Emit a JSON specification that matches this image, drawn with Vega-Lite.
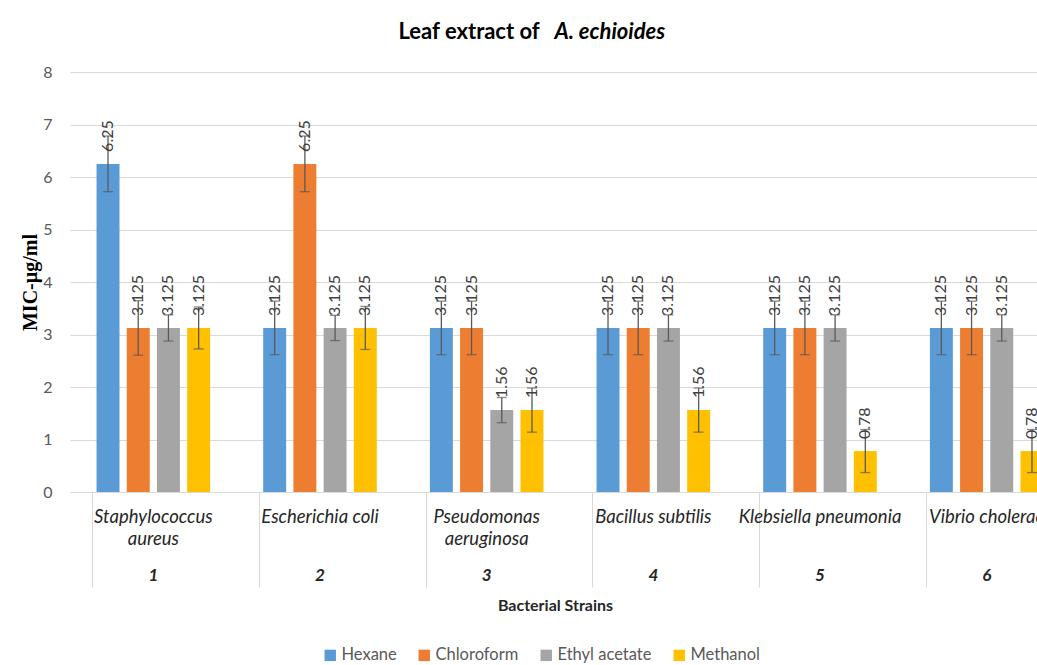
{
  "$schema": "https://vega.github.io/schema/vega-lite/v6.json",
  "width": 1000,
  "height": 420,
  "autosize": {"type": "none"},
  "padding": {"left": 70, "top": 72, "right": 0, "bottom": 173},
  "background": "white",
  "config": {"font": "Lato", "view": {"stroke": null}},
  "data": {
    "values": [
      {"strain": "1|Staphylococcus|aureus", "solvent": "Hexane", "mic": 6.25, "lo": 5.72, "hi": 6.78},
      {"strain": "1|Staphylococcus|aureus", "solvent": "Chloroform", "mic": 3.125, "lo": 2.605, "hi": 3.645},
      {"strain": "1|Staphylococcus|aureus", "solvent": "Ethyl acetate", "mic": 3.125, "lo": 2.875, "hi": 3.375},
      {"strain": "1|Staphylococcus|aureus", "solvent": "Methanol", "mic": 3.125, "lo": 2.725, "hi": 3.525},
      {"strain": "2|Escherichia coli", "solvent": "Hexane", "mic": 3.125, "lo": 2.615, "hi": 3.635},
      {"strain": "2|Escherichia coli", "solvent": "Chloroform", "mic": 6.25, "lo": 5.72, "hi": 6.78},
      {"strain": "2|Escherichia coli", "solvent": "Ethyl acetate", "mic": 3.125, "lo": 2.885, "hi": 3.365},
      {"strain": "2|Escherichia coli", "solvent": "Methanol", "mic": 3.125, "lo": 2.715, "hi": 3.535},
      {"strain": "3|Pseudomonas|aeruginosa", "solvent": "Hexane", "mic": 3.125, "lo": 2.615, "hi": 3.635},
      {"strain": "3|Pseudomonas|aeruginosa", "solvent": "Chloroform", "mic": 3.125, "lo": 2.615, "hi": 3.635},
      {"strain": "3|Pseudomonas|aeruginosa", "solvent": "Ethyl acetate", "mic": 1.56, "lo": 1.32, "hi": 1.8},
      {"strain": "3|Pseudomonas|aeruginosa", "solvent": "Methanol", "mic": 1.56, "lo": 1.14, "hi": 1.98},
      {"strain": "4|Bacillus subtilis", "solvent": "Hexane", "mic": 3.125, "lo": 2.615, "hi": 3.635},
      {"strain": "4|Bacillus subtilis", "solvent": "Chloroform", "mic": 3.125, "lo": 2.615, "hi": 3.635},
      {"strain": "4|Bacillus subtilis", "solvent": "Ethyl acetate", "mic": 3.125, "lo": 2.875, "hi": 3.375},
      {"strain": "4|Bacillus subtilis", "solvent": "Methanol", "mic": 1.56, "lo": 1.14, "hi": 1.98},
      {"strain": "5|Klebsiella pneumonia", "solvent": "Hexane", "mic": 3.125, "lo": 2.615, "hi": 3.635},
      {"strain": "5|Klebsiella pneumonia", "solvent": "Chloroform", "mic": 3.125, "lo": 2.615, "hi": 3.635},
      {"strain": "5|Klebsiella pneumonia", "solvent": "Ethyl acetate", "mic": 3.125, "lo": 2.875, "hi": 3.375},
      {"strain": "5|Klebsiella pneumonia", "solvent": "Methanol", "mic": 0.78, "lo": 0.37, "hi": 1.19},
      {"strain": "6|Vibrio cholerae", "solvent": "Hexane", "mic": 3.125, "lo": 2.615, "hi": 3.635},
      {"strain": "6|Vibrio cholerae", "solvent": "Chloroform", "mic": 3.125, "lo": 2.615, "hi": 3.635},
      {"strain": "6|Vibrio cholerae", "solvent": "Ethyl acetate", "mic": 3.125, "lo": 2.875, "hi": 3.375},
      {"strain": "6|Vibrio cholerae", "solvent": "Methanol", "mic": 0.78, "lo": 0.37, "hi": 1.19}
    ]
  },
  "layer": [
    {
      "mark": {"type": "bar"},
      "encoding": {
        "x": {
          "field": "strain", "type": "nominal",
          "scale": {"paddingInner": 0.275, "paddingOuter": 0.1375},
          "axis": {
            "orient": "bottom", "title": null,
            "labelExpr": "slice(split(datum.label, '|'), 1)",
            "labelAngle": 0, "labelFont": "Lato", "labelFontStyle": "italic", "labelFontSize": 18.5,
            "labelColor": "#262626", "labelBaseline": "top", "labelPadding": -80, "labelLineHeight": 22,
            "labelOverlap": false, "labelBound": false, "labelFlush": false, "labelLimit": 0,
            "ticks": true, "tickSize": 95, "tickColor": "#d9d9d9", "tickWidth": 1, "bandPosition": 0,
            "domain": true, "domainColor": "#d9d9d9", "grid": false
          }
        },
        "xOffset": {
          "field": "solvent", "type": "nominal",
          "sort": ["Hexane", "Chloroform", "Ethyl acetate", "Methanol"],
          "scale": {"paddingInner": 0.24, "paddingOuter": 0.12}
        },
        "y": {
          "field": "mic", "type": "quantitative",
          "scale": {"domain": [0, 8]},
          "axis": {
            "values": [0, 1, 2, 3, 4, 5, 6, 7, 8],
            "title": "MIC-µg/ml",
            "grid": true, "gridColor": "#d9d9d9", "domain": false, "ticks": false,
            "labelColor": "#595959", "labelFontSize": 16, "labelPadding": 18,
            "titleFont": "Liberation Serif", "titleFontWeight": "bold", "titleFontSize": 20, "titleColor": "#000000",
            "titleX": -40, "titleY": 210, "titleAngle": -90, "titleBaseline": "middle", "titleAlign": "center"
          }
        },
        "color": {
          "field": "solvent", "type": "nominal",
          "scale": {
            "domain": ["Hexane", "Chloroform", "Ethyl acetate", "Methanol"],
            "range": ["#5B9BD5", "#ED7D31", "#A5A5A5", "#FFC000"]
          },
          "legend": {
            "orient": "none", "legendX": 252, "legendY": 575, "direction": "horizontal", "title": null,
            "symbolType": "square", "symbolSize": 130, "symbolStrokeWidth": 0,
            "labelFontSize": 16.5, "labelColor": "#595959", "columnPadding": 19, "labelOffset": 3
          }
        }
      }
    },
    {
      "mark": {"type": "rule", "color": "#595959", "strokeWidth": 1.3},
      "encoding": {
        "x": {
          "field": "strain", "type": "nominal",
          "axis": {
            "orient": "bottom",
            "title": "Bacterial Strains",
            "labelExpr": "split(datum.label, '|')[0]",
            "labelAngle": 0, "labelFontWeight": "bold", "labelFontStyle": "italic", "labelFontSize": 17,
            "labelColor": "#262626", "labelBaseline": "middle", "labelPadding": 83,
            "ticks": false, "domain": false, "grid": false,
            "titleFontSize": 16, "titleFontWeight": "bold", "titleColor": "#262626",
            "titleX": 485, "titleY": 113, "titleBaseline": "middle", "titleAlign": "center"
          }
        },
        "xOffset": {"field": "solvent", "type": "nominal", "sort": ["Hexane", "Chloroform", "Ethyl acetate", "Methanol"]},
        "y": {"field": "lo", "type": "quantitative"},
        "y2": {"field": "hi"}
      }
    },
    {
      "mark": {"type": "tick", "color": "#595959", "thickness": 1.3, "size": 10, "orient": "horizontal"},
      "encoding": {
        "x": {
          "field": "strain", "type": "nominal",
          "axis": {
            "orient": "top", "labels": false, "ticks": false, "domain": false, "grid": false,
            "title": "Leaf extract of",
            "titleFontSize": 22, "titleFontWeight": "bold", "titleColor": "#000000",
            "titleX": 328, "titleY": -34, "titleAlign": "left", "titleBaseline": "alphabetic"
          }
        },
        "xOffset": {"field": "solvent", "type": "nominal", "sort": ["Hexane", "Chloroform", "Ethyl acetate", "Methanol"]},
        "y": {"field": "lo", "type": "quantitative"}
      }
    },
    {
      "mark": {"type": "tick", "color": "#595959", "thickness": 1.3, "size": 10, "orient": "horizontal"},
      "encoding": {
        "x": {"field": "strain", "type": "nominal", "axis": null},
        "xOffset": {"field": "solvent", "type": "nominal", "sort": ["Hexane", "Chloroform", "Ethyl acetate", "Methanol"]},
        "y": {"field": "hi", "type": "quantitative"}
      }
    },
    {
      "mark": {"type": "text", "angle": 270, "align": "left", "baseline": "middle", "dx": 12, "fontSize": 16, "color": "#404040"},
      "encoding": {
        "x": {
          "field": "strain", "type": "nominal",
          "axis": {
            "orient": "top", "labels": false, "ticks": false, "domain": false, "grid": false,
            "title": "A. echioides",
            "titleFontSize": 22, "titleFontWeight": "bold", "titleFontStyle": "italic", "titleColor": "#000000",
            "titleX": 484, "titleY": -34, "titleAlign": "left", "titleBaseline": "alphabetic"
          }
        },
        "xOffset": {"field": "solvent", "type": "nominal", "sort": ["Hexane", "Chloroform", "Ethyl acetate", "Methanol"]},
        "y": {"field": "mic", "type": "quantitative"},
        "text": {"field": "mic", "type": "quantitative", "format": ".4~f"}
      }
    }
  ],
  "resolve": {"axis": {"x": "independent"}}
}
